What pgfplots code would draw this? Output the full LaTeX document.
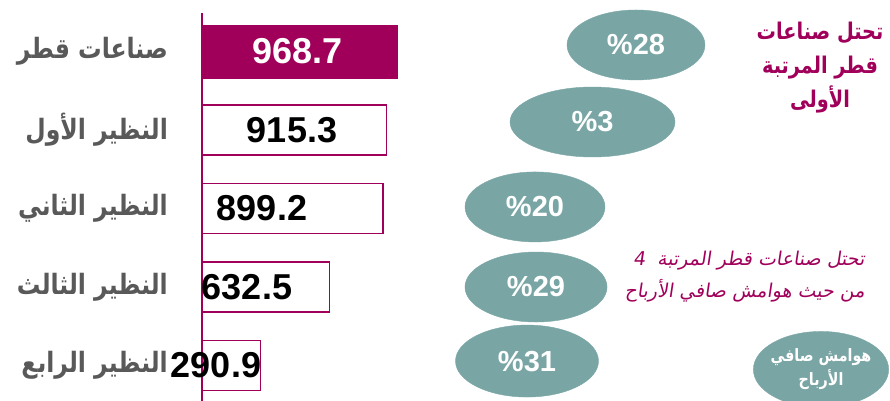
\documentclass[border=0pt]{standalone}
\usepackage{fontspec}
\setmainfont{Liberation Sans}
\newfontfamily\arabicfont[Script=Arabic]{DejaVu Sans}
\newfontfamily\arabiccond[Script=Arabic,FakeStretch=0.84]{DejaVu Sans}
\newfontfamily\arabicit[Script=Arabic,FakeSlant=0.15]{DejaVu Sans}
\TeXXeTstate=1
\usepackage{pgfplots}
\pgfplotsset{compat=1.18}
\definecolor{qmag}{RGB}{160,0,90}
\definecolor{qteal}{RGB}{121,166,165}
\definecolor{qgray}{RGB}{89,89,89}
\begin{document}
\begin{tikzpicture}
\useasboundingbox (0,0) rectangle (890bp,401bp);
\begin{axis}[at={(0,0)}, anchor=south west, width=890bp, height=401bp,
  scale only axis, hide axis, clip=false,
  xmin=-1002.5, xmax=3414.4, ymin=-0.656, ymax=4.452, y dir=reverse]
% vertical axis line
\addplot[qmag, line width=1.5bp, mark=none] coordinates {(0,-0.49) (0,4.452)};
% bars
\addplot[xbar, bar shift=0pt, bar width=53bp, fill=qmag, draw=qmag] coordinates {(968.7,0)};
\addplot[xbar, bar shift=0pt, bar width=50bp, fill=white, draw=qmag, line width=1.5bp]
  coordinates {(915.3,1) (899.2,2) (632.5,3) (290.9,4)};
% value labels
\addplot[draw=none, mark=none, nodes near coords, point meta=explicit symbolic,
  every node near coord/.append style={anchor=center, inner sep=0pt, text=white,
  font=\fontsize{36bp}{40bp}\selectfont\bfseries}]
  coordinates {(476,0) [968.7]};
\addplot[draw=none, mark=none, nodes near coords, point meta=explicit symbolic,
  every node near coord/.append style={anchor=center, inner sep=0pt, text=black,
  font=\fontsize{36bp}{40bp}\selectfont\bfseries}]
  coordinates {(446.7,1) [915.3] (297.8,2) [899.2] (223.3,3) [632.5] (69.5,4) [290.9]};
% category labels
\addplot[draw=none, mark=none, nodes near coords, point meta=explicit symbolic,
  every node near coord/.append style={anchor=east, inner sep=0pt, text=qgray,
  font=\arabiccond\bfseries\fontsize{28bp}{32bp}\selectfont}]
  coordinates {(-168.7,0) [{\beginR صناعات قطر\endR}]
               (-168.7,1) [{\beginR النظير الأول\endR}]
               (-168.7,2) [{\beginR النظير الثاني\endR}]
               (-168.7,3) [{\beginR النظير الثالث\endR}]
               (-168.7,4) [{\beginR النظير الرابع\endR}]};
% bubbles
\pgfplotsset{bub/.style={only marks, color=qteal, mark=*, nodes near coords, point meta=explicit symbolic,
  every node near coord/.append style={anchor=center, inner sep=0pt, text=white,
  font=\fontsize{29bp}{32bp}\selectfont\bfseries}}}
\addplot[bub, mark size=35bp, mark options={xscale=1.971, fill=qteal, draw=qteal}] coordinates {(2153.8,-0.083) [\%28]};
\addplot[bub, mark size=35bp, mark options={xscale=2.357, fill=qteal, draw=qteal}] coordinates {(1938,0.898) [\%3]};
\addplot[bub, mark size=35bp, mark options={xscale=2.0, fill=qteal, draw=qteal}] coordinates {(1652.6,1.98) [\%20]};
\addplot[bub, mark size=35bp, mark options={xscale=2.03, fill=qteal, draw=qteal}] coordinates {(1657.6,3.0) [\%29]};
\addplot[bub, mark size=36bp, mark options={xscale=1.986, fill=qteal, draw=qteal}] coordinates {(1612.9,3.943) [\%31]};
\addplot[only marks, color=qteal, mark=*, mark size=38bp, mark options={xscale=1.78, fill=qteal, draw=qteal}] coordinates {(3072,4.05)};
\coordinate (e6) at (axis cs:3072,4.05);
\coordinate (t1) at (axis cs:3067,0.21);
\coordinate (t2) at (axis cs:3290,2.87);
\end{axis}
% annotations
\node[align=center, inner sep=0pt, text=white, font=\arabiccond\bfseries\fontsize{17bp}{24bp}\selectfont]
  at (e6) {\beginR هوامش صافي\endR\\\beginR الأرباح\endR};
\node[align=center, inner sep=0pt, text=qmag, font=\arabiccond\bfseries\fontsize{23bp}{34bp}\selectfont]
  at (t1) {\beginR تحتل صناعات\endR\\\beginR قطر المرتبة\endR\\\beginR الأولى\endR};
\node[align=right, anchor=east, inner sep=0pt, text=qmag, font=\arabicit\fontsize{19bp}{32bp}\selectfont]
  at (t2) {\beginR تحتل صناعات قطر المرتبة~~4\endR\\\beginR من حيث هوامش صافي الأرباح\endR};
\end{tikzpicture}
\end{document}
